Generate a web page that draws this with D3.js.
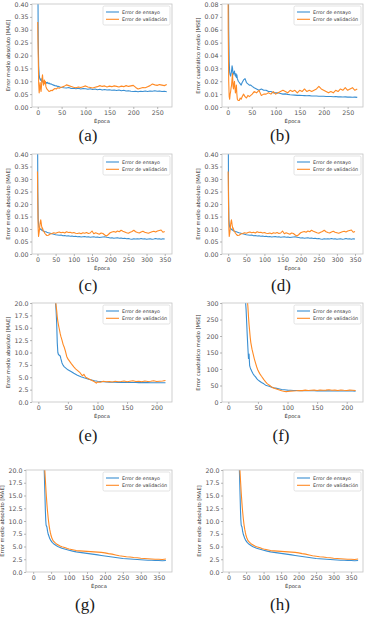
<!DOCTYPE html>
<html>
<head>
<meta charset="utf-8">
<script src="https://cdn.jsdelivr.net/npm/d3@7"></script>
<style>
  body { margin: 0; background: #fff; }
  svg { display: block; font-family: "DejaVu Sans", sans-serif; }
</style>
</head>
<body>
<div id="fig"></div>
<script>
// ---- data ----
const labMAE = "Error medio absoluto [MAE]";
const labMSE = "Error cuadrático medio [MSE]";
const labX = "Época";
const seriesNames = ["Error de ensayo", "Error de validación"];

// (a) / (b): 270 epochs
const epochsAB = [0,1,2,3,4,5,6,7,8,9,10,11,12,13,14,15,16,17,18,19,20,22,24,26,28,30,33,36,39,42,45,48,51,
  55,60,65,70,75,80,85,90,95,100,105,110,115,120,125,130,135,140,145,150,155,160,165,170,175,180,185,190,195,200,
  205,210,215,220,225,230,235,240,245,250,255,260,265,270];
const trainA = [0.62,0.26,0.16,0.125,0.112,0.108,0.104,0.11,0.101,0.098,0.103,0.097,0.1,0.095,0.098,0.094,0.097,0.092,0.095,0.093,0.096,
  0.091,0.093,0.089,0.09,0.087,0.085,0.083,0.082,0.08,0.079,0.077,0.076,
  0.075,0.074,0.076,0.072,0.073,0.071,0.073,0.07,0.072,0.071,0.069,0.071,0.068,0.07,0.067,0.069,0.066,0.068,0.066,0.067,
  0.065,0.066,0.064,0.066,0.063,0.065,0.062,0.063,0.061,0.06,0.061,0.059,0.061,0.06,0.062,0.06,0.062,0.061,0.063,0.061,
  0.062,0.06,0.061,0.059];
const valA = [0.33,0.2,0.09,0.055,0.075,0.095,0.07,0.06,0.085,0.11,0.125,0.1,0.085,0.095,0.105,0.09,0.1,0.08,0.075,0.07,0.068,
  0.064,0.06,0.062,0.065,0.063,0.068,0.072,0.07,0.075,0.073,0.076,0.078,
  0.08,0.086,0.083,0.08,0.077,0.075,0.078,0.076,0.079,0.082,0.078,0.076,0.074,0.077,0.079,0.083,0.08,0.082,0.078,0.081,
  0.079,0.082,0.08,0.078,0.081,0.079,0.083,0.08,0.082,0.084,0.076,0.07,0.073,0.076,0.075,0.079,0.083,0.089,0.086,0.084,
  0.087,0.085,0.083,0.087];
const trainB = [0.3,0.11,0.06,0.035,0.027,0.025,0.024,0.026,0.028,0.032,0.03,0.025,0.027,0.026,0.028,0.025,0.024,0.026,0.023,0.025,0.022,
  0.02,0.019,0.018,0.017,0.019,0.021,0.022,0.019,0.018,0.017,0.017,0.016,
  0.015,0.014,0.013,0.014,0.013,0.013,0.012,0.012,0.011,0.011,0.011,0.0105,0.01,0.0102,0.0098,0.0095,0.0093,0.0092,0.009,0.0091,
  0.0089,0.0088,0.0087,0.0088,0.0086,0.0085,0.0086,0.0084,0.0083,0.0084,0.0082,0.0081,0.0082,0.008,0.0081,0.0079,0.008,0.0078,0.0079,0.0077,
  0.0078,0.0076,0.0077,0.0075];
const valB = [0.15,0.06,0.02,0.008,0.006,0.01,0.012,0.015,0.017,0.022,0.026,0.016,0.014,0.018,0.02,0.015,0.011,0.013,0.017,0.01,0.006,
  0.005,0.005,0.007,0.006,0.008,0.01,0.008,0.007,0.009,0.008,0.009,0.01,
  0.012,0.011,0.013,0.009,0.01,0.01,0.011,0.01,0.012,0.01,0.011,0.012,0.013,0.012,0.011,0.013,0.012,0.013,0.011,0.013,
  0.012,0.014,0.012,0.013,0.012,0.013,0.014,0.016,0.014,0.013,0.012,0.011,0.012,0.011,0.013,0.012,0.014,0.013,0.015,0.013,
  0.014,0.015,0.013,0.014];

// (c) / (d): 350 epochs (same run shown twice)
const epochsCD = [0,1,2,3,4,5,6,7,8,9,10,11,12,13,14,15,16,18,20,23,26,30,35,40,45,50,
  55,60,65,70,75,80,85,90,95,100,105,110,115,120,125,130,135,140,145,150,155,160,165,170,175,180,185,190,195,200,
  205,210,215,220,225,230,235,240,245,250,255,260,265,270,275,280,285,290,295,300,305,310,315,320,325,330,335,340,345,350];
const trainCD = [0.6,0.25,0.14,0.12,0.11,0.105,0.103,0.1,0.101,0.098,0.099,0.096,0.095,0.097,0.094,0.093,0.092,
  0.091,0.09,0.089,0.087,0.085,0.083,0.081,0.079,0.077,
  0.076,0.075,0.076,0.073,0.074,0.072,0.073,0.071,0.072,0.07,0.071,0.069,0.07,0.068,0.069,0.07,0.068,0.069,0.067,0.068,
  0.069,0.067,0.068,0.066,0.067,0.068,0.069,0.067,0.066,0.064,0.065,0.063,0.064,0.065,0.063,0.064,0.062,0.063,0.061,0.062,
  0.06,0.059,0.061,0.06,0.061,0.06,0.062,0.06,0.061,0.059,0.06,0.061,0.059,0.06,0.062,0.06,0.061,0.059,0.061,0.06];
const valCD = [0.33,0.2,0.1,0.07,0.08,0.09,0.105,0.12,0.13,0.137,0.128,0.115,0.108,0.1,0.104,0.097,0.092,
  0.09,0.083,0.078,0.074,0.075,0.08,0.082,0.085,0.083,
  0.086,0.088,0.085,0.087,0.084,0.089,0.086,0.087,0.084,0.086,0.083,0.082,0.084,0.081,0.085,0.083,0.086,0.082,0.084,0.092,
  0.081,0.085,0.082,0.079,0.084,0.082,0.076,0.072,0.078,0.085,0.088,0.09,0.087,0.092,0.089,0.095,0.091,0.088,0.085,0.083,
  0.087,0.09,0.095,0.089,0.086,0.084,0.088,0.091,0.087,0.085,0.083,0.086,0.089,0.091,0.088,0.092,0.094,0.096,0.087,0.09];

// (e) / (f): 215 epochs
const epochsEF = [0,10,20,25,28,30,31,32,33,34,35,36,37,38,40,42,44,46,48,50,53,56,60,63,66,70,73,75,77,80,85,90,95,98,100,
  105,110,115,120,125,130,135,140,145,150,155,160,165,170,175,180,185,190,195,200,205,210,215];
const trainE = [80,55,35,26,22,18.5,16,12,10,9.6,9.5,9.4,9.3,8.8,7.9,7.4,7.1,6.9,6.7,6.5,6.3,6.1,5.8,5.6,5.4,5.2,5.05,5.0,4.9,4.8,
  4.6,4.45,4.3,4.25,4.2,4.15,4.1,4.05,4.0,4.0,3.98,3.97,3.96,3.95,3.95,3.94,3.93,3.93,3.92,3.92,3.91,3.91,3.9,3.9,3.9,3.89,3.89,3.88];
const valE = [90,60,38,28,22,19.5,18.5,17.2,16.3,15.6,15,14.4,13.8,13.3,12.5,11.6,11,10.2,9.2,8.7,8.2,7.7,7.1,6.7,6.4,6.0,5.5,5.3,5.6,5.0,
  4.7,4.4,4.1,3.8,4.05,4.0,4.2,4.1,4.15,4.05,4.2,4.1,4.15,4.25,4.1,4.2,4.3,4.15,4.2,4.1,4.25,4.15,4.2,4.3,4.15,4.2,4.25,4.35];
const trainF = [1500,900,600,420,330,280,240,200,165,132,145,110,104,99,92,85,80,76,71,67,63,59,55,51,49,47,45,44,43,42,
  40,38,37,36.5,36,35.5,35,34.8,34.5,34.3,34.2,34,34,33.9,33.8,33.7,33.7,33.6,33.6,33.5,33.5,33.4,33.4,33.3,33.3,33.2,33.2,33.1];
const valF = [1800,1100,700,480,390,340,325,310,290,260,235,215,195,180,160,145,130,118,106,96,86,78,68,61,55,50,46,43,42,40,
  37,34,32,31.5,32,33,33.5,34,35,34.5,36,35,35.5,36,35,36.5,35.5,36,37,35.5,36,35,36.5,35.5,35,36,35.5,35];

// (g) / (h): 370 epochs (same run shown twice)
const epochsGH = [0,10,20,25,28,30,31,32,33,34,35,36,37,38,39,40,42,44,46,48,50,53,56,60,65,70,75,80,85,90,95,100,
  110,120,130,140,150,160,170,180,190,200,210,220,230,240,250,260,270,280,290,300,310,320,330,340,350,360,370];
const trainGH = [120,70,40,30,25,21.5,19.5,17,14.5,12,10.2,9.2,9.0,8.9,8.5,8.0,7.4,7.0,6.6,6.3,6.1,5.8,5.6,5.4,5.15,4.95,4.8,4.65,4.55,4.45,4.35,4.25,
  4.1,3.95,3.85,3.75,3.65,3.55,3.45,3.35,3.25,3.15,3.05,2.95,2.85,2.75,2.65,2.6,2.55,2.5,2.45,2.4,2.35,2.3,2.3,2.25,2.25,2.2,2.25];
const valGH = [130,80,45,34,27,23.5,22,20.5,19.2,18,16.8,15.6,14.6,13.6,12.7,11.9,10.5,9.3,8.4,7.7,7.1,6.5,6.1,5.8,5.5,5.3,5.1,4.95,4.85,4.75,4.6,4.5,
  4.35,4.2,4.15,4.1,4.05,4.0,3.95,3.9,3.85,3.75,3.6,3.5,3.35,3.2,3.1,3.0,2.95,2.85,2.8,2.7,2.65,2.6,2.55,2.5,2.5,2.45,2.55];

// tick values
const xTicks250 = [0,50,100,150,200,250];
const xTicks350 = [0,50,100,150,200,250,300,350];
const xTicks200 = [0,50,100,150,200];
const yTicks040 = [0,0.05,0.1,0.15,0.2,0.25,0.3,0.35,0.4];
const yTicks008 = [0,0.01,0.02,0.03,0.04,0.05,0.06,0.07,0.08];
const yTicks20 = [0,2.5,5,7.5,10,12.5,15,17.5,20];
const yTicks300 = [0,50,100,150,200,250,300];

// ---- layout (plot boxes: left, right, top, bottom) ----
const panels = [
  {tag: "(a)", ep: epochsAB, tr: trainA, va: valA, xd: [-12, 281], xt: xTicks250, yd: [0, 0.4], yt: yTicks040, fmt: ".2f", lab: labMAE, box: [32, 172, 4, 107], tx: 88, ty: 141},
  {tag: "(b)", ep: epochsAB, tr: trainB, va: valB, xd: [-12, 282], xt: xTicks250, yd: [0, 0.08], yt: yTicks008, fmt: ".2f", lab: labMSE, box: [222, 363, 4, 107], tx: 280, ty: 141},
  {tag: "(c)", ep: epochsCD, tr: trainCD, va: valCD, xd: [-15, 370], xt: xTicks350, yd: [0, 0.4], yt: yTicks040, fmt: ".2f", lab: labMAE, box: [32, 172, 154, 254], tx: 88, ty: 291},
  {tag: "(d)", ep: epochsCD, tr: trainCD, va: valCD, xd: [-17, 372], xt: xTicks350, yd: [0, 0.4], yt: yTicks040, fmt: ".2f", lab: labMAE, box: [222, 363, 154, 254], tx: 281, ty: 291},
  {tag: "(e)", ep: epochsEF, tr: trainE, va: valE, xd: [-10.7, 226], xt: xTicks200, yd: [0, 20], yt: yTicks20, fmt: ".1f", lab: labMAE, box: [32, 172, 303, 402], tx: 88, ty: 441},
  {tag: "(f)", ep: epochsEF, tr: trainF, va: valF, xd: [-10.7, 227.5], xt: xTicks200, yd: [0, 300], yt: yTicks300, fmt: "d", lab: labMSE, box: [222, 363, 303, 402], tx: 281, ty: 441},
  {tag: "(g)", ep: epochsGH, tr: trainGH, va: valGH, xd: [-20, 387], xt: xTicks350, yd: [0, 20], yt: yTicks20, fmt: ".1f", lab: labMAE, box: [26, 172, 470, 572], tx: 85, ty: 610},
  {tag: "(h)", ep: epochsGH, tr: trainGH, va: valGH, xd: [-16, 384], xt: xTicks350, yd: [0, 20], yt: yTicks20, fmt: ".1f", lab: labMAE, box: [223, 363, 470, 572], tx: 280, ty: 610}
];

const colors = ["#3a8fd2", "#ff8a24"];
const W = 367, H = 617;

const svg = d3.select("#fig").append("svg")
    .attr("width", W)
    .attr("height", H);

const defs = svg.append("defs");

panels.forEach((p, i) => {
  const [l, r, t, b] = p.box;
  const x = d3.scaleLinear().domain(p.xd).range([l, r]);
  const y = d3.scaleLinear().domain(p.yd).range([b, t]);
  const g = svg.append("g");

  defs.append("clipPath").attr("id", "clip" + i)
    .append("rect").attr("x", l).attr("y", t).attr("width", r - l).attr("height", b - t);

  // lines: training first, validation on top
  const line = d3.line().x((d, j) => x(p.ep[j])).y(d => y(d));
  [p.tr, p.va].forEach((vals, k) => {
    g.append("path")
      .datum(vals)
      .attr("clip-path", `url(#clip${i})`)
      .attr("fill", "none")
      .attr("stroke", colors[k])
      .attr("stroke-width", 1.1)
      .attr("stroke-linejoin", "round")
      .attr("d", line);
  });

  // frame
  g.append("rect")
    .attr("x", l).attr("y", t).attr("width", r - l).attr("height", b - t)
    .attr("fill", "none").attr("stroke", "#c4c4c4").attr("stroke-width", 0.8);

  // axes
  const styleAxis = ax => {
    ax.select(".domain").remove();
    ax.selectAll(".tick line").attr("stroke", "#888").attr("stroke-width", 0.6);
    ax.selectAll(".tick text").attr("fill", "#555").attr("font-size", 6.3)
      .attr("font-family", "DejaVu Sans, sans-serif");
  };
  g.append("g")
    .attr("transform", `translate(0,${b})`)
    .call(d3.axisBottom(x).tickValues(p.xt).tickSize(2).tickPadding(1.6).tickFormat(d3.format("d")))
    .call(styleAxis);
  g.append("g")
    .attr("transform", `translate(${l},0)`)
    .call(d3.axisLeft(y).tickValues(p.yt).tickSize(2).tickPadding(1.6).tickFormat(d3.format(p.fmt)))
    .call(styleAxis);

  // axis labels
  g.append("text")
    .attr("x", (l + r) / 2).attr("y", b + 15.5)
    .attr("text-anchor", "middle")
    .attr("font-size", 5.2).attr("fill", "#333")
    .text(labX);
  g.append("text")
    .attr("transform", `translate(${l - 24},${(t + b) / 2}) rotate(-90)`)
    .attr("dy", "0.35em")
    .attr("text-anchor", "middle")
    .attr("font-size", 5.2).attr("fill", "#333")
    .text(p.lab);

  // legend (upper right)
  const lg = g.append("g");
  const lw = 67, lh = 19;
  const lx = r - 2 - lw, ly = t + 2;
  lg.append("rect")
    .attr("x", lx).attr("y", ly).attr("width", lw).attr("height", lh)
    .attr("rx", 1.5)
    .attr("fill", "#fff").attr("fill-opacity", 0.85)
    .attr("stroke", "#d0d0d0").attr("stroke-width", 0.6);
  seriesNames.forEach((name, k) => {
    const yy = ly + 6 + k * 7.3;
    lg.append("line")
      .attr("x1", lx + 3).attr("x2", lx + 16).attr("y1", yy).attr("y2", yy)
      .attr("stroke", colors[k]).attr("stroke-width", 1.1);
    lg.append("text")
      .attr("x", lx + 19).attr("y", yy).attr("dy", "0.35em")
      .attr("font-size", 4.8).attr("fill", "#333")
      .text(name);
  });

  // subfigure tag
  svg.append("text")
    .attr("x", p.tx).attr("y", p.ty)
    .attr("text-anchor", "middle")
    .attr("font-family", "Liberation Serif, serif")
    .attr("font-size", 17).attr("fill", "#1a1a1a")
    .text(p.tag);
});
</script>
</body>
</html>
